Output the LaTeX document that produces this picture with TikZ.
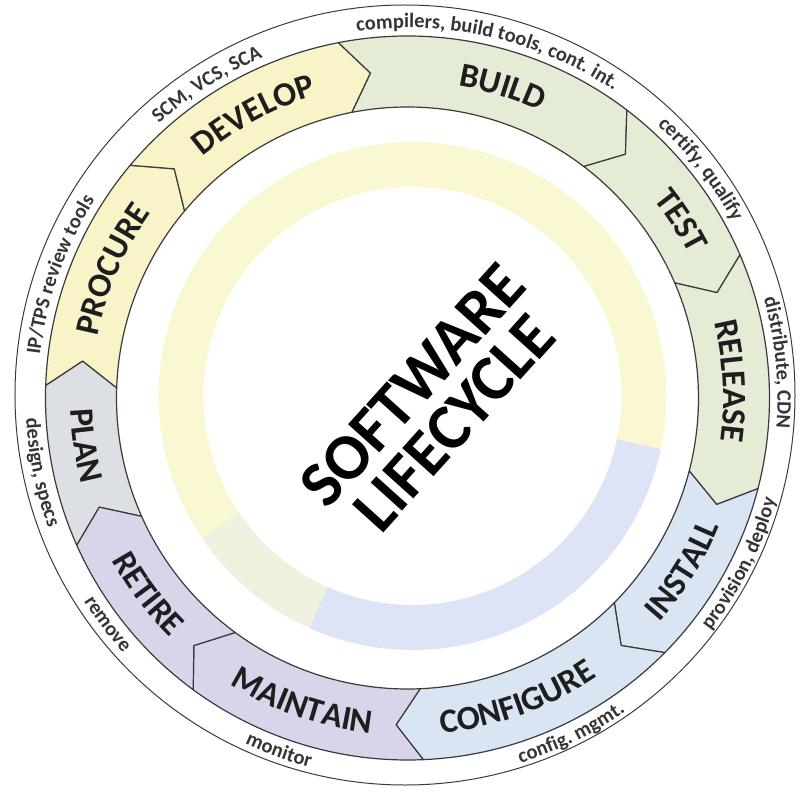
\documentclass[tikz,border=0pt]{standalone}
\usepackage{fontspec}
\setmainfont{Carlito}
\usetikzlibrary{decorations.text}

\definecolor{planc}{HTML}{DCDFE4}
\definecolor{devc}{HTML}{F8F4C8}
\definecolor{buildc}{HTML}{E4ECD6}
\definecolor{opsc}{HTML}{DAE5F4}
\definecolor{maintc}{HTML}{DAD4EB}
\definecolor{ringline}{HTML}{3A3A3A}
\definecolor{ink}{HTML}{1E1E1E}
\definecolor{haloyel}{HTML}{FAF7D3}
\definecolor{haloblue}{HTML}{DCE4F5}
\definecolor{halogreen}{HTML}{EEF2DE}

\tikzset{
  segment/.style={draw=ringline, line width=1.2pt, line join=round, fill=#1},
  halo/.style={line width=45pt, draw=#1},
  title/.style={font=\fontsize{65}{56}\selectfont\bfseries, align=center, text=black},
}

\newcommand\phase{\fontsize{34}{40}\selectfont\bfseries\color{ink}}
\newcommand\tooltext{\fontsize{20.5}{24}\selectfont\bfseries\color{ink!90}}

% text running clockwise (upper half, letters point outwards)
\newcommand\cwlabel[4]{%
  \path[decorate, decoration={text along path, text align=center, text={|#3|#4}}]
    (#1+45:#2pt) arc[start angle=#1+45, end angle=#1-45, radius=#2pt];}
% text running anticlockwise (lower half, letters point inwards)
\newcommand\ccwlabel[4]{%
  \path[decorate, decoration={text along path, text align=center, text={|#3|#4}}]
    (#1-45:#2pt) arc[start angle=#1-45, end angle=#1+45, radius=#2pt];}

\begin{document}
\begin{tikzpicture}
\useasboundingbox (-407.5pt,-394pt) rectangle (394.5pt,398pt);
\def\Ro{362pt}\def\Ri{291pt}\def\Rm{327pt}\def\tip{4.5}

% pale ring around the title
\begin{scope}[shift={(5pt,2pt)}]
  \draw[halo=haloyel] (214:231.5pt) arc[start angle=214, end angle=-12, radius=231.5pt];
  \draw[halo=haloblue] (-12:231.5pt) arc[start angle=-12, end angle=-114, radius=231.5pt];
  \draw[halo=halogreen] (-114:231.5pt) arc[start angle=-114, end angle=-146, radius=231.5pt];
\end{scope}

% outer rim
\draw[ringline, line width=1pt] (-2.5pt,3pt) circle[radius=390pt];

% the ten phases, each an arc with a chevron pointing clockwise
\foreach \a/\b/\col in {204/178/planc, 178/140/devc, 140/101/devc,
    101/52.7/buildc, 52.7/23.3/buildc, 23.3/-14.5/buildc,
    -14.5/-44.7/opsc, -44.7/-87.5/opsc, -87.5/-126.3/maintc, -126.3/-156/maintc}
  \path[segment=\col] (\a:\Ro) arc[start angle=\a, end angle=\b, radius=\Ro]
    -- (\b-\tip:\Rm) -- (\b:\Ri) arc[start angle=\b, end angle=\a, radius=\Ri]
    -- (\a-\tip:\Rm) -- cycle;

\node[title, rotate=48] (title) at (26pt,-6pt) {SOFTWARE\\LIFECYCLE};

% phase names
\cwlabel{156.5}{316}{\phase}{PROCURE}
\cwlabel{118.5}{316}{\phase}{DEVELOP}
\cwlabel{73}{316}{\phase}{BUILD}
\cwlabel{33}{316}{\phase}{TEST}
\cwlabel{3}{316}{\phase}{RELEASE}
\ccwlabel{-32}{337}{\phase}{INSTALL}
\ccwlabel{-70}{337}{\phase}{CONFIGURE}
\ccwlabel{-109}{337}{\phase}{MAINTAIN}
\ccwlabel{-143}{337}{\phase}{RETIRE}
\ccwlabel{188.4}{337}{\phase}{PLAN}

% tooling on the rim
\cwlabel{160.5}{370}{\tooltext}{IP/TPS review tools}
\cwlabel{122.6}{370}{\tooltext}{SCM, VCS, SCA}
\cwlabel{77}{370}{\tooltext}{compilers, build tools, cont. int.}
\cwlabel{38}{370}{\tooltext}{certify, qualify}
\cwlabel{5.5}{370}{\tooltext}{distribute, CDN}
\ccwlabel{-26.5}{382}{\tooltext}{provision, deploy}
\ccwlabel{-64}{382}{\tooltext}{config. mgmt.}
\ccwlabel{-110}{382}{\tooltext}{monitor}
\ccwlabel{-143}{382}{\tooltext}{remove}
\ccwlabel{191.5}{382}{\tooltext}{design, specs}
\end{tikzpicture}
\end{document}
